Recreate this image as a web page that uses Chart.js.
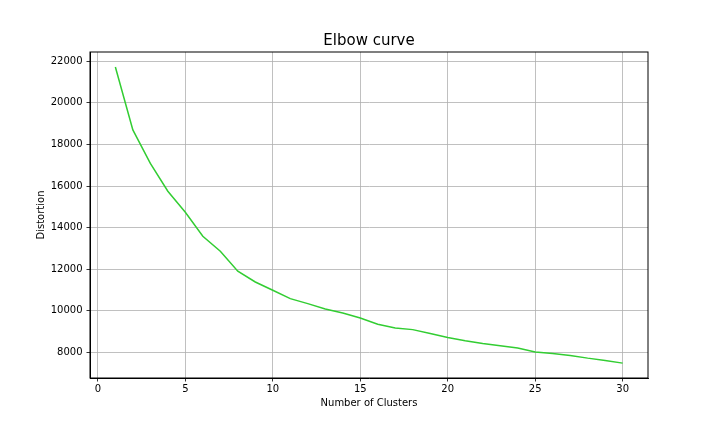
<!DOCTYPE html>
<html>
<head>
<meta charset="utf-8">
<script src="https://cdn.jsdelivr.net/npm/chart.js@4/dist/chart.umd.min.js"></script>
<style>
    html, body { margin: 0; padding: 0; background: #fff; }
    #chart { display: block; }
</style>
</head>
<body>
<canvas id="chart" width="720" height="432"></canvas>
<script>
// Küme sayıları ve distortion değerleri (görselden okunmuştur)
const clusters = [1, 2, 3, 4, 5, 6, 7, 8, 9, 10, 11, 12, 13, 14, 15,
                  16, 17, 18, 19, 20, 21, 22, 23, 24, 25, 26, 27, 28, 29, 30];
const distortion = [21720, 18700, 17090, 15750, 14740, 13590, 12870, 11910, 11390, 10990,
                    10590, 10350, 10090, 9900, 9660, 9360, 9180, 9100, 8910, 8720,
                    8560, 8430, 8320, 8220, 8030, 7950, 7860, 7730, 7620, 7490];
const xTicks = [0, 5, 10, 15, 20, 25, 30];
const yTicks = [8000, 10000, 12000, 14000, 16000, 18000, 20000, 22000];

const FONT = '"DejaVu Sans", sans-serif';

// Eksen çerçevesi ve başlık (matplotlib gibi çizim alanına ortalı)
const frame = {
    id: 'frame',
    afterDraw(chart) {
        const { ctx, chartArea: a } = chart;
        ctx.save();
        ctx.strokeStyle = '#000';
        ctx.lineWidth = 1;
        ctx.strokeRect(a.left, a.top, a.right - a.left, a.bottom - a.top);

        ctx.fillStyle = '#000';
        ctx.font = '15px ' + FONT;
        ctx.textAlign = 'center';
        ctx.textBaseline = 'middle';
        ctx.fillText('Elbow curve', (a.left + a.right) / 2, 41);
        ctx.restore();
    }
};

const points = clusters.map((c, i) => ({ x: c, y: distortion[i] }));

new Chart(document.getElementById('chart'), {
    type: 'line',
    data: {
        datasets: [{
            label: 'Distortion',
            data: points,
            borderColor: '#32cd32',
            borderWidth: 1.5,
            pointRadius: 0,
            tension: 0,
            fill: false
        }]
    },
    options: {
        responsive: false,
        animation: false,
        devicePixelRatio: 1,
        layout: { padding: { left: 0, right: 72, top: 52, bottom: 0 } },
        plugins: {
            legend: { display: false },
            tooltip: { enabled: false },
            title: { display: false }
        },
        scales: {
            x: {
                type: 'linear',
                min: -0.45,
                max: 31.45,
                afterBuildTicks: (scale) => {
                    scale.ticks = xTicks.map(v => ({ value: v }));
                },
                afterFit: (scale) => { scale.height = 54; },
                grid: { color: '#b0b0b0', lineWidth: 0.8, tickColor: '#000', tickLength: 3.5 },
                border: { display: true, color: '#000', width: 1 },
                ticks: {
                    color: '#000',
                    font: { family: FONT, size: 10 },
                    padding: 2,
                    maxRotation: 0
                },
                title: {
                    display: true,
                    text: 'Number of Clusters',
                    color: '#000',
                    font: { family: FONT, size: 10 },
                    padding: { top: 0, bottom: 23 }
                }
            },
            y: {
                type: 'linear',
                min: 6775,
                max: 22443,
                afterBuildTicks: (scale) => {
                    scale.ticks = yTicks.map(v => ({ value: v }));
                },
                afterFit: (scale) => { scale.width = 90; },
                grid: { color: '#b0b0b0', lineWidth: 0.8, tickColor: '#000', tickLength: 3.5 },
                border: { display: true, color: '#000', width: 1 },
                ticks: {
                    color: '#000',
                    font: { family: FONT, size: 10 },
                    padding: 4,
                    callback: (v) => String(v)
                },
                title: {
                    display: true,
                    text: 'Distortion',
                    color: '#000',
                    font: { family: FONT, size: 10 },
                    padding: { top: 35, bottom: 0 }
                }
            }
        }
    },
    plugins: [frame]
});
</script>
</body>
</html>
